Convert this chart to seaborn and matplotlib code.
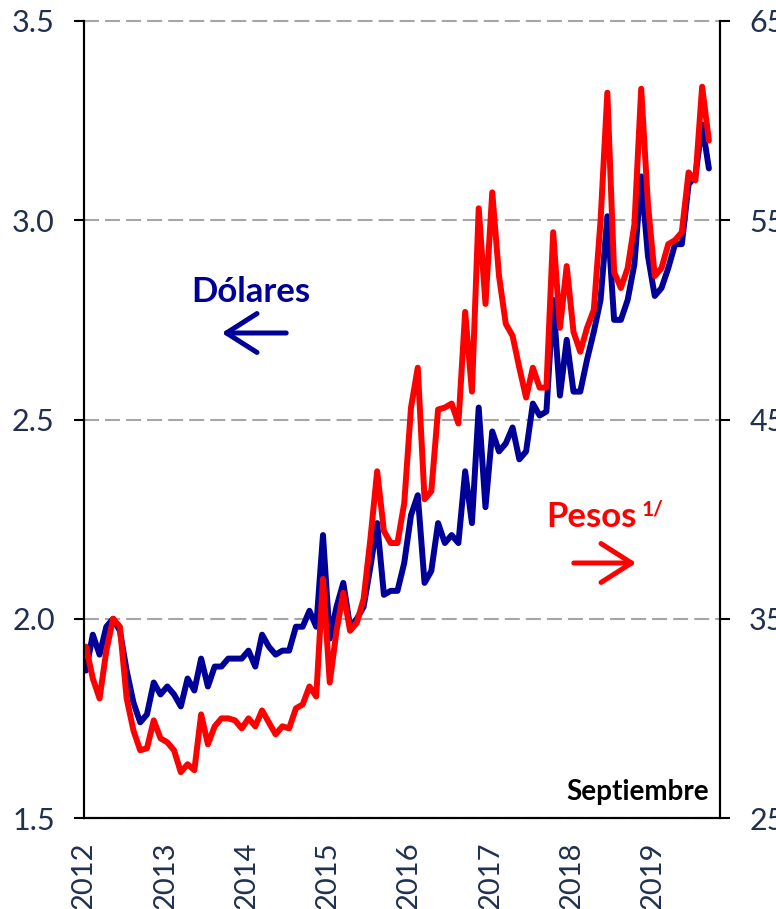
import numpy as np
import pandas as pd
import matplotlib
matplotlib.use("Agg")
import matplotlib.pyplot as plt
import seaborn as sns

sns.set_style("white")
plt.rcParams['font.family'] = ['Lato', 'DejaVu Sans']

# Monthly data Jan-2012 .. Sep-2019
dolares = [1.87, 1.96, 1.91, 1.98, 2.00, 1.97, 1.87, 1.79, 1.74, 1.76, 1.84, 1.81,
           1.83, 1.81, 1.78, 1.85, 1.82, 1.90, 1.83, 1.88, 1.88, 1.90, 1.90, 1.90,
           1.92, 1.88, 1.96, 1.93, 1.91, 1.92, 1.92, 1.98, 1.98, 2.02, 1.98, 2.21,
           1.95, 2.03, 2.09, 1.98, 2.00, 2.03, 2.13, 2.24, 2.06, 2.07, 2.07, 2.14,
           2.26, 2.31, 2.09, 2.12, 2.24, 2.19, 2.21, 2.19, 2.37, 2.24, 2.53, 2.28,
           2.47, 2.42, 2.44, 2.48, 2.40, 2.42, 2.54, 2.51, 2.52, 2.80, 2.56, 2.70,
           2.57, 2.57, 2.65, 2.72, 2.80, 3.01, 2.75, 2.75, 2.80, 2.89, 3.11, 2.91,
           2.81, 2.83, 2.88, 2.94, 2.94, 3.09, 3.11, 3.24, 3.13]
pesos = [33.6, 32.0, 31.0, 33.4, 35.0, 34.6, 31.0, 29.4, 28.4, 28.5, 29.9, 29.0,
         28.8, 28.4, 27.3, 27.7, 27.4, 30.2, 28.7, 29.6, 30.0, 30.0, 29.9, 29.5,
         30.0, 29.6, 30.4, 29.8, 29.2, 29.6, 29.5, 30.5, 30.7, 31.6, 31.1, 37.0,
         31.8, 34.4, 36.3, 34.4, 34.8, 36.0, 39.0, 42.4, 39.4, 38.8, 38.8, 40.8,
         45.6, 47.6, 41.0, 41.4, 45.5, 45.6, 45.8, 44.8, 50.4, 46.4, 55.6, 50.8,
         56.4, 52.2, 49.8, 49.2, 47.6, 46.1, 47.6, 46.6, 46.6, 54.4, 49.6, 52.7,
         49.4, 48.4, 49.6, 50.5, 55.0, 61.4, 52.4, 51.6, 52.6, 54.8, 61.6, 55.8,
         52.2, 52.6, 53.8, 54.0, 54.4, 57.4, 57.0, 61.7, 59.0]
years = ['2012', '2013', '2014', '2015', '2016', '2017', '2018', '2019']
left_ticks = [1.5, 2.0, 2.5, 3.0, 3.5]
left_labels = ['1.5', '2.0', '2.5', '3.0', '3.5']
right_ticks = [25, 35, 45, 55, 65]

month = np.arange(len(dolares))
df = pd.DataFrame({'mes': month, 'dolares': dolares, 'pesos': pesos})

BLUE = '#000099'
RED = '#FF0000'
TXT = '#1F3050'

fig = plt.figure(figsize=(7.76, 9.09), dpi=100)
ax = fig.add_axes([84/776, 1 - 818/909, (720-84)/776, (818-21)/909])
ax2 = ax.twinx()

sns.lineplot(data=df, x='mes', y='dolares', ax=ax, color=BLUE, linewidth=4.3)
sns.lineplot(data=df, x='mes', y='pesos', ax=ax2, color=RED, linewidth=4.3)

ax.set_xlim(-0.3, 93.64)
ax.set_ylim(1.5, 3.5)
ax2.set_ylim(25, 65)

ax.set_xticks(np.arange(len(years)) * 12 - 0.3)
ax.set_xticklabels(years, rotation=90, fontsize=21, color=TXT)
ax.set_yticks(left_ticks)
ax.set_yticklabels(left_labels, fontsize=22, color=TXT)
ax2.set_yticks(right_ticks)
ax2.set_yticklabels([str(t) for t in right_ticks], fontsize=22, color=TXT)

for a in (ax, ax2):
    a.set_xlabel('')
    a.set_ylabel('')
    a.spines['top'].set_visible(False)
    for s in a.spines.values():
        s.set_color('black')
        s.set_linewidth(1.5)

ax.tick_params(axis='y', direction='out', length=7, width=1.5, pad=14, color='black')
ax.tick_params(axis='x', direction='out', length=7, width=1.5, pad=10, color='black')
ax2.tick_params(axis='y', direction='out', length=7, width=1.5, pad=14, color='black')

ax.yaxis.grid(True, linestyle=(0, (7.2, 2.9)), color='#a6a6a6', linewidth=1.5)
ax.xaxis.grid(False)
ax2.grid(False)
ax.set_axisbelow(True)
for gl in ax.yaxis.get_gridlines():
    gl.set_clip_on(False)

# annotations
fig.text(251/776, 1 - 292/909, 'Dólares', color=BLUE, fontsize=25, fontweight='bold',
         ha='center', va='center')
ax.annotate('', xy=(219/776, 1 - 333/909), xytext=(289/776, 1 - 333/909),
            xycoords='figure fraction', textcoords='figure fraction',
            arrowprops=dict(arrowstyle='->, head_length=0.55, head_width=0.35',
                            color=BLUE, lw=3.6, mutation_scale=40))
fig.text(546/776, 1 - 517/909, 'Pesos', color=RED, fontsize=25,
         fontweight='bold', ha='left', va='center')
fig.text(642/776, 1 - 520/909, '1/', color=RED, fontsize=15,
         fontweight='bold', ha='left', va='bottom')
ax.annotate('', xy=(639/776, 1 - 563/909), xytext=(571/776, 1 - 563/909),
            xycoords='figure fraction', textcoords='figure fraction',
            arrowprops=dict(arrowstyle='->, head_length=0.55, head_width=0.35',
                            color=RED, lw=3.6, mutation_scale=40))
fig.text(709/776, 1 - 792/909, 'Septiembre', color='black', fontsize=20,
         fontweight='bold', ha='right', va='center')

fig.savefig('out.png', dpi=100)
